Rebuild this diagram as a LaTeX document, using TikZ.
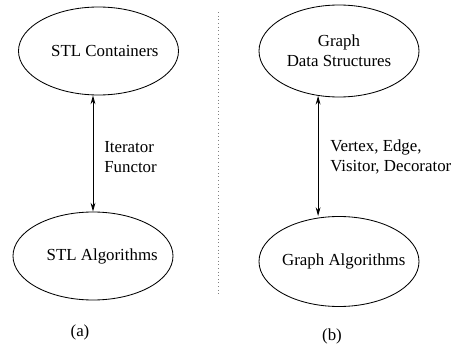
\documentclass[tikz,border=0pt]{standalone}
\usepackage{fontspec}
\setmainfont{Liberation Serif}
\usepackage{tikz}
\usetikzlibrary{arrows.meta,positioning,shapes.geometric}

\begin{document}
\begin{tikzpicture}[
  x=0.25mm, y=-0.25mm,
  font=\fontsize{12}{14.4}\selectfont,
  blob/.style={draw, ellipse, inner sep=0pt, line width=0.6pt},
  note/.style={anchor=west, align=left, inner sep=0pt},
  >={Stealth[length=2.2mm, width=1.2mm]}]
\useasboundingbox (0,0) rectangle (460,347);
% (a) STL
\node[blob, minimum width=40mm, minimum height=22mm,
      label={[align=center, xshift=1.6mm]center:STL Containers}] (scont) at (98.5,51) {};
\node[blob, minimum width=40mm, minimum height=22mm,
      label={[align=center, xshift=2.3mm]center:STL Algorithms}] (salg) at (93,256) {};
\node[note] (iter) at (104,157) {Iterator\\Functor};
\node (capa) at (80,332) {(a)};
\draw[<->, line width=0.6pt] (salg.north) -- (salg.north |- scont.south);
% separator
\coordinate (septop) at (218,12);
\coordinate (sepbot) at (218,295);
\draw[gray, dotted, line width=0.6pt] (septop) -- (sepbot);
% (b) graph
\node[blob, minimum width=40mm, minimum height=23mm,
      label={[align=center]center:Graph\\Data Structures}] (gds) at (339,51) {};
\node[blob, minimum width=40mm, minimum height=22.5mm,
      label={[align=center, xshift=1.2mm]center:Graph Algorithms}] (galg) at (339,261.5) {};
\node[note] (vert) at (330,157) {Vertex, Edge,\\Visitor, Decorator};
\node (capb) at (332,336) {(b)};
\draw[<->, line width=0.6pt] (gds.-115) -- (gds.-115 |- galg.north);
\end{tikzpicture}
\end{document}
